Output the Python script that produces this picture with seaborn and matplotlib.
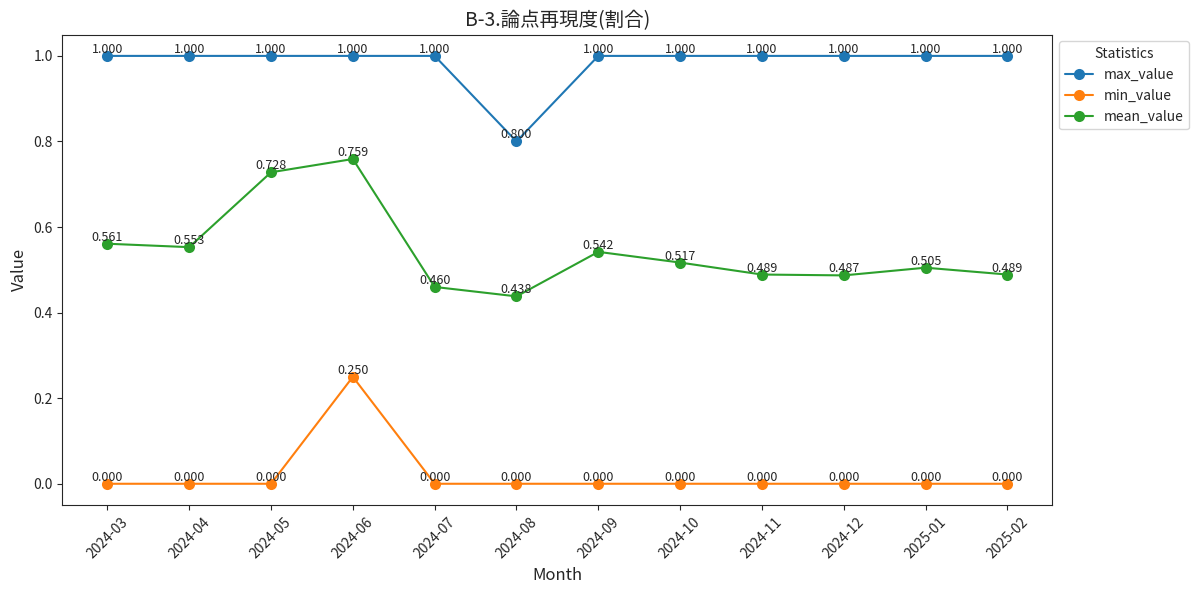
import matplotlib
matplotlib.use('Agg')
import pandas as pd
import seaborn as sns
from matplotlib import pyplot as plt

months = ['2024-03', '2024-04', '2024-05', '2024-06', '2024-07', '2024-08',
          '2024-09', '2024-10', '2024-11', '2024-12', '2025-01', '2025-02']
max_value = [1.0, 1.0, 1.0, 1.0, 1.0, 0.8, 1.0, 1.0, 1.0, 1.0, 1.0, 1.0]
min_value = [0.0, 0.0, 0.0, 0.25, 0.0, 0.0, 0.0, 0.0, 0.0, 0.0, 0.0, 0.0]
mean_value = [0.561, 0.553, 0.728, 0.759, 0.460, 0.438, 0.542, 0.517, 0.489, 0.487, 0.505, 0.489]

df = pd.DataFrame({'Month': months, 'max_value': max_value,
                   'min_value': min_value, 'mean_value': mean_value})
long_df = df.melt(id_vars='Month', var_name='Statistics', value_name='Value')

sns.set_style('ticks')
plt.rcParams['font.family'] = ['Noto Sans CJK JP', 'DejaVu Sans']

fig, ax = plt.subplots(figsize=(12, 5.95), dpi=100)
sns.lineplot(data=long_df, x='Month', y='Value', hue='Statistics',
             marker='o', markersize=8, markeredgewidth=0, linewidth=1.5,
             palette=['#1f77b4', '#ff7f0e', '#2ca02c'], ax=ax)

# value labels on every point
for col in ['max_value', 'min_value', 'mean_value']:
    for i, v in enumerate(df[col]):
        ax.text(i, v, f'{v:.3f}', ha='center', va='bottom', fontsize=9)

ax.set_title('B-3.論点再現度(割合)', fontsize=14)
ax.set_xlabel('Month', fontsize=12)
ax.set_ylabel('Value', fontsize=12)
ax.set_ylim(-0.05, 1.05)
ax.set_yticks([0.0, 0.2, 0.4, 0.6, 0.8, 1.0])
plt.xticks(rotation=45)
ax.legend(title='Statistics', bbox_to_anchor=(1.0, 1), loc='upper left')
for s in ax.spines.values():
    s.set_visible(True)

plt.subplots_adjust(left=0.052, right=0.877, top=0.942, bottom=0.151)
plt.savefig('out.png')
